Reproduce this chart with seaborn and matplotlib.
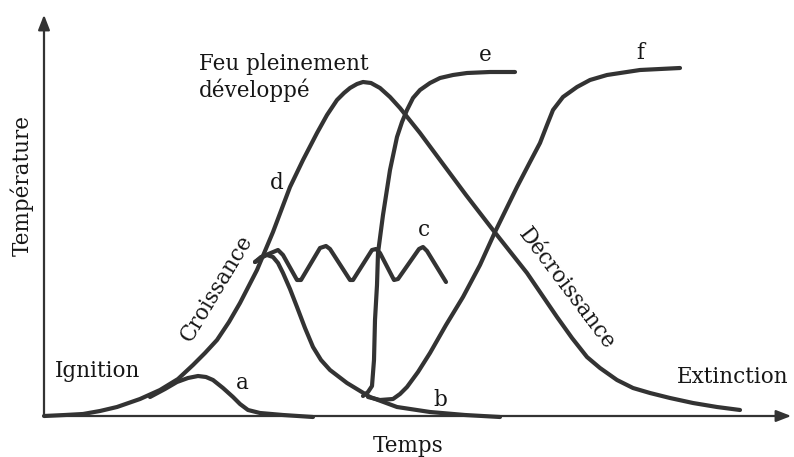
import seaborn as sns
import numpy as np
import pandas as pd
import matplotlib.pyplot as plt

# Curves (time, temperature in arbitrary units)
d_time = [0, 21, 39, 56, 73, 96, 116, 134, 149, 161, 173, 185, 196, 213, 229, 246, 259, 273, 283,
          293, 300, 306, 313, 319, 327, 336, 346, 356, 376, 396, 422, 449, 483, 513, 528, 543, 556,
          573, 589, 606, 626, 649, 673, 696]
d_temp = [0, 1, 2, 5, 9, 17, 26, 37, 51, 63, 76, 94, 113, 146, 184, 229, 256, 283, 301,
          316, 323, 328, 332, 334, 333, 328, 319, 308, 283, 256, 221, 186, 143, 99, 78, 59, 48,
          36, 28, 23, 18, 13, 9, 6]

a_time = [106, 121, 133, 144, 154, 162, 169, 179, 189, 196, 204, 216, 239, 269]
a_temp = [19, 27, 34, 38, 40, 39, 36, 28, 19, 12, 6, 3, 1, -1]

b_time = [211, 217, 223, 229, 234, 239, 246, 253, 261, 269, 277, 286, 303, 326, 353, 386, 421, 456]
b_temp = [154, 159, 161, 159, 153, 143, 127, 109, 88, 69, 56, 46, 33, 19, 9, 4, 1, -1]

c_time = [211, 222, 234, 239, 253, 257, 276, 282, 286, 306, 309, 328, 332, 336, 350, 354, 375, 379, 383, 402]
c_temp = [154, 161, 166, 161, 136, 136, 168, 170, 167, 136, 136, 166, 167, 163, 136, 137, 167, 169, 165, 134]

e_time = [319, 324, 328, 330, 331, 333, 334, 339, 346, 353, 358, 363, 369, 376, 386, 396, 409, 423, 446, 471]
e_temp = [20, 24, 30, 56, 96, 131, 163, 201, 246, 279, 294, 306, 318, 326, 333, 338, 341, 343, 344, 344]

f_time = [324, 336, 349, 356, 363, 374, 386, 402, 419, 436, 451, 473, 486, 496, 503, 509, 519, 533,
          546, 563, 596, 636]
f_temp = [19, 16, 17, 22, 29, 44, 63, 91, 119, 151, 184, 229, 254, 273, 291, 306, 319, 329,
          336, 341, 346, 348]

curves = {'a': (a_time, a_temp), 'b': (b_time, b_temp), 'c': (c_time, c_temp),
          'd': (d_time, d_temp), 'e': (e_time, e_temp), 'f': (f_time, f_temp)}

sns.set_style('white')
plt.rcParams['font.family'] = ['DejaVu Serif']
ink = '#333333'
txt = '#161616'

fig = plt.figure(figsize=(7.94, 4.57), dpi=100)
ax = fig.add_axes([0, 0, 1, 1])
for name, (t, T) in curves.items():
    sns.lineplot(x=t, y=T, sort=False, estimator=None, color=ink, lw=3,
                 solid_capstyle='round', solid_joinstyle='round', ax=ax)

ax.set_xlim(-44, 750)
ax.set_ylim(-41, 416)
ax.axis('off')

# axes with arrows
ax.annotate('', xy=(0, 404), xytext=(0, -2),
            arrowprops=dict(arrowstyle='-|>,head_length=0.9,head_width=0.35', color=ink, lw=1.6))
ax.annotate('', xy=(750, 0), xytext=(-1, 0),
            arrowprops=dict(arrowstyle='-|>,head_length=0.9,head_width=0.35', color=ink, lw=1.6))

fs = 15.5
ax.text(-22, 230, 'Température', rotation=90, ha='center', va='center', fontsize=fs, color=txt)
ax.text(364, -30, 'Temps', ha='center', va='center', fontsize=fs, color=txt)
ax.text(54, 45, 'Ignition', ha='center', va='center', fontsize=fs, color=txt)
ax.text(198, 33, 'a', ha='center', va='center', fontsize=fs, color=txt)
ax.text(396, 16, 'b', ha='center', va='center', fontsize=fs, color=txt)
ax.text(380, 186, 'c', ha='center', va='center', fontsize=fs, color=txt)
ax.text(233, 233, 'd', ha='center', va='center', fontsize=fs, color=txt)
ax.text(441, 361, 'e', ha='center', va='center', fontsize=fs, color=txt)
ax.text(596, 363, 'f', ha='center', va='center', fontsize=fs, color=txt)
ax.text(173, 128, 'Croissance', rotation=59, ha='center', va='center', fontsize=fs, color=txt)
ax.text(523, 127, 'Décroissance', rotation=-53, ha='center', va='center', fontsize=fs, color=txt)
ax.text(155, 346, 'Feu pleinement', ha='left', va='baseline', fontsize=fs, color=txt)
ax.text(155, 319, 'développé', ha='left', va='baseline', fontsize=fs, color=txt)
ax.text(689, 39, 'Extinction', ha='center', va='center', fontsize=fs, color=txt)

fig.savefig('out.png', dpi=100)
